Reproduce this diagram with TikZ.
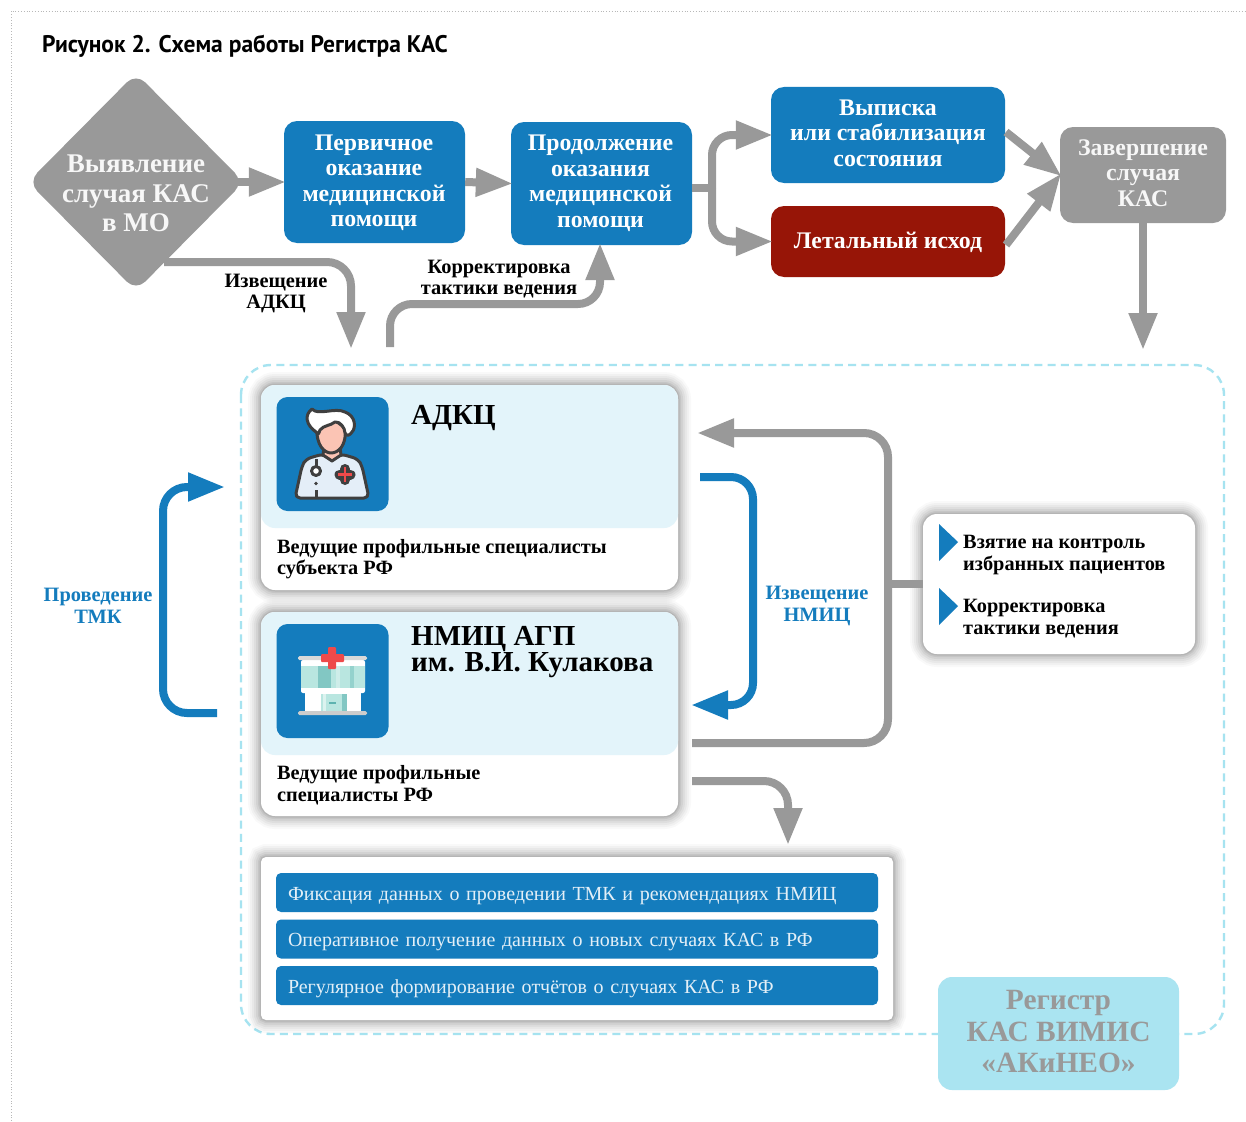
\documentclass[tikz,border=0pt]{standalone}
\usepackage{fontspec}
\setmainfont{Liberation Serif}
\newfontfamily\titlefont[FakeStretch=0.98]{PT Sans}
\usetikzlibrary{arrows.meta,shapes.geometric}
\definecolor{cblue}{HTML}{147CBD}
\definecolor{cgray}{HTML}{999999}
\definecolor{cred}{HTML}{971507}
\definecolor{clight}{HTML}{E3F4FA}
\definecolor{cdash}{HTML}{A6E3F0}
\definecolor{cdark}{HTML}{3F3F3F}
\definecolor{cglass}{HTML}{B9E6E0}
\definecolor{cskin}{HTML}{FBC4B4}
\definecolor{ccoat}{HTML}{E4EEF8}
\definecolor{ccross}{HTML}{EE4A4A}
\tikzset{
  procbox/.style={rounded corners=13pt,inner sep=0pt},
  proctext/.style={inner sep=0pt,align=center,text=white,
    font=\fontsize{23.8}{25.5}\selectfont\bfseries},
  conn/.style={draw=cgray,line width=8pt,shorten >=-2pt,-{Triangle[length=37pt,width=27pt]}},
  bconn/.style={draw=cblue,line width=8pt,shorten >=-2pt,-{Triangle[length=37pt,width=27pt]}},
  stem/.style={draw=cgray,line width=8pt},
  softshadow/.style={
    preaction={draw=black,opacity=.025,line width=26pt},
    preaction={draw=black,opacity=.03,line width=22pt},
    preaction={draw=black,opacity=.035,line width=18pt},
    preaction={draw=black,opacity=.04,line width=14pt},
    preaction={draw=black,opacity=.05,line width=10pt},
    preaction={draw=black,opacity=.06,line width=6pt},
    preaction={draw=black,opacity=.08,line width=3pt}},
  card/.style={fill=white,rounded corners=14pt,inner sep=0pt,softshadow},
  cardtop/.style={fill=clight,rounded corners=14pt,inner sep=0pt},
  iconbox/.style={fill=cblue,rounded corners=11pt,inner sep=0pt,minimum width=112pt,minimum height=114pt},
  bartext/.style={fill=cblue,rounded corners=5pt,minimum width=602pt,minimum height=39pt,inner xsep=12pt,inner ysep=0pt,
    text width=578pt,align=left,text=white!88!cblue,text height=15pt,text depth=0pt,font=\fontsize{20}{23}\selectfont},
  lab/.style={align=center,inner sep=0pt,font=\fontsize{20.4}{21}\selectfont\bfseries},
  bluelab/.style={lab,text=cblue,font=\fontsize{20.4}{22}\selectfont\bfseries},
  caption/.style={anchor=west,align=left,inner sep=0pt,font=\fontsize{20.3}{21.5}\selectfont\bfseries},
  head/.style={anchor=west,inner sep=0pt,text height=19pt,text depth=6pt,font=\fontsize{29}{30}\selectfont\bfseries},
}
\begin{document}
\begin{tikzpicture}[x=1pt,y=-1pt]
\useasboundingbox (0,0) rectangle (1246,1121);
\fill[white] (0,0) rectangle (1246,1121);
\draw[cgray!70,dotted,line width=.8pt] (11,1121) -- (11,11) -- (1246,11);
\node[anchor=west,inner sep=0pt,font=\titlefont\fontsize{24}{26}\selectfont\bfseries] (title) at (42,46) {Рисунок 2. Схема работы Регистра КАС};

% top row
\node[diamond,fill=cgray,rounded corners=13pt,inner sep=0pt,minimum width=216pt,minimum height=218pt] (d) at (136,182) {};
\node[align=center,inner sep=0pt,text=white!92!cgray,font=\fontsize{27}{29.5}\selectfont\bfseries] (dtext) at (136,193.5) {Выявление\\случая КАС\\в МО};
\node[procbox,fill=cblue,minimum width=181pt,minimum height=122pt] (p1) at (374.5,182) {};
\node[proctext] (p1t) at (374,183) {Первичное\\оказание\\медицинской\\помощи};
\node[procbox,fill=cblue,minimum width=181pt,minimum height=123pt] (p2) at (601.5,183.5) {};
\node[proctext] (p2t) at (600.5,183.5) {Продолжение\\оказания\\медицинской\\помощи};
\node[procbox,fill=cblue,minimum width=234pt,minimum height=96pt] (v) at (888,135) {};
\node[proctext] (vt) at (888,133) {Выписка\\или стабилизация\\состояния};
\node[procbox,fill=cred,minimum width=234pt,minimum height=71pt] (l) at (888,241.5) {};
\node[proctext] (lt) at (888,242.5) {Летальный исход};
\node[procbox,fill=cgray,minimum width=166pt,minimum height=96pt] (z) at (1143,175) {};
\node[proctext,text=white!92!cgray] (zt) at (1143,173) {Завершение\\случая\\КАС};

% free ends
\coordinate (dout) at (164,262);
\coordinate (inA) at (351,347);
\coordinate (outA) at (390,347);
\coordinate (p2in) at (600,245);
\coordinate (split) at (712,188);
\coordinate (vout) at (1006,132);
\coordinate (lout) at (1006,245);
\coordinate (zin) at (1060,175);
\coordinate (inZ) at (1143,348);

\draw[conn,shorten <=-8pt] (d.east) -- (p1.west);
\draw[conn] (p1.east) -- (p2.west);
\draw[stem] (p2.east |- split) -- (split);
\draw[conn,rounded corners=20pt] (split) |- (v.west);
\draw[conn,rounded corners=20pt] (split) |- (l.west);
\draw[conn] (vout) -- (zin);
\draw[conn] (lout) -- (zin);
\draw[conn] (z.south) -- (inZ);
\draw[conn,rounded corners=24pt] (dout) -| (inA);
\draw[conn,rounded corners=22pt] (outA) |- (500,304) -| (p2in);

\node[lab] (lab1) at (276,293) {Извещение\\АДКЦ};
\node[lab] (lab2) at (499,279.5) {Корректировка\\тактики ведения};

% region
\draw[cdash,line width=2.4pt,dash pattern=on 8pt off 5.3pt,rounded corners=30pt] (241,365) rectangle (1224,1034);

% cards
\node[card,minimum width=417pt,minimum height=205pt] (c1) at (469.5,487.5) {};
\node[cardtop,minimum width=417pt,minimum height=143pt] (c1t) at (469.5,456.5) {};
\node[iconbox] (i1) at (332.5,454) {};
\node[head] (h1) at (411,417.5) {АДКЦ};
\node[caption] (cap1) at (277,559) {Ведущие профильные специалисты\\субъекта РФ};

\node[card,minimum width=417pt,minimum height=204pt] (c2) at (469.5,714) {};
\node[cardtop,minimum width=417pt,minimum height=143pt] (c2t) at (469.5,683.5) {};
\node[iconbox] (i2) at (332.5,681) {};
\node[head] (h2a) at (411,639) {НМИЦ АГП};
\node[head] (h2b) at (411,665) {им. В.И. Кулакова};
\node[caption] (cap2) at (277,785) {Ведущие профильные\\специалисты РФ};

% doctor icon
\begin{scope}[line width=3pt,draw=cdark,line join=round]
\filldraw[fill=ccoat,rounded corners=5pt] (295,498) -- (302,466) -- (306,459) -- (323,454) -- (332,460) -- (341,454) -- (358,459) -- (362,466) -- (369,498) -- cycle;
\filldraw[fill=cskin] (324,447) -- (323,455) -- (332,461) -- (341,455) -- (340,447) -- cycle;
\filldraw[fill=cskin] (317,428) .. controls (316,446) and (325,453) .. (331,453) .. controls (338,453) and (347,446) .. (345,428) -- (332,418) -- cycle;
\filldraw[fill=white] (312,409) .. controls (318,416) and (335,407) .. (345,412) .. controls (356,416) and (356,428) .. (352,432) .. controls (350,435) and (347,437) .. (345,433) .. controls (345,428) and (340,421) .. (335,422) .. controls (330,426) and (324,425) .. (320,430) .. controls (318,436) and (318,434) .. (316,432) .. controls (306,425) and (304,415) .. (312,409) -- cycle;
\draw (316,459) -- (316,467);
\filldraw[fill=white] (316,471) circle (4.5pt);
\draw (316,490) -- (316,498);
\fill[cdark] (316,483.5) circle (1.8pt);
\draw[cdark,line width=10pt,line cap=round] (345,469) -- (345,480) (339.5,474.5) -- (350.5,474.5);
\draw[ccross,line width=2.6pt] (345,467) -- (345,482) (338,474.5) -- (352,474.5);
\end{scope}

% building icon
\fill[white] (305,693) rectangle (361,712);
\fill[white,rounded corners=2pt] (301,660) rectangle (365,693);
\fill[cglass] (301,666) rectangle (365,688);
\fill[cglass!70!teal] (318,666) rectangle (331,688);
\fill[cglass!70!white] (336,666) rectangle (340,688);
\fill[cglass!80!teal] (350,666) rectangle (354,688);
\fill[cglass] (321,694) rectangle (347,712);
\fill[cglass!70!teal] (342,694) rectangle (347,712);
\fill[white!50!cglass] (323,694) rectangle (326,712);
\fill[cglass!50!teal] (329,702) rectangle (336,704);
\fill[white!85!black,rounded corners=1.5pt] (298,656) rectangle (367,660);
\fill[white!80!black,rounded corners=1.5pt] (298,711) rectangle (367,715);
\fill[ccross,rounded corners=1pt] (328,647) rectangle (336,669);
\fill[ccross,rounded corners=1pt] (321,654) rectangle (344,662);

% right box
\node[card,minimum width=272pt,minimum height=140pt] (rb) at (1059,584) {};
\node[caption,font=\fontsize{20.3}{22}\selectfont\bfseries] (rb1) at (963,555) {Взятие на контроль\\избранных пациентов};
\node[caption,font=\fontsize{20.3}{22}\selectfont\bfseries] (rb2) at (963,619) {Корректировка\\тактики ведения};
\fill[cblue] (939,524) -- (958,542) -- (939,561) -- cycle;
\fill[cblue] (939,588) -- (958,606) -- (939,625) -- cycle;

% inner connectors
\coordinate (c2out) at (692,743);
\coordinate (backbend) at (888,600);
\coordinate (c1in) at (699,433);
\coordinate (c1out) at (700,477);
\coordinate (c2in) at (693,705);
\coordinate (leftA) at (217,713);
\coordinate (leftB) at (223,487);
\coordinate (c3out) at (692,781);
\coordinate (downin) at (788,843);
\draw[conn,rounded corners=24pt] (c2out) -| (backbend) |- (c1in);
\draw[stem] (backbend |- rb.west) -- (rb.west);
\draw[bconn,rounded corners=22pt] (c1out) -| (753,600) |- (c2in);
\draw[bconn,rounded corners=24pt] (leftA) -| (163,600) |- (leftB);
\draw[conn,rounded corners=24pt] (c3out) -| (downin);
\node[bluelab] (lab3) at (98,606) {Проведение\\ТМК};
\node[bluelab] (lab4) at (817,606) {Извещение\\НМИЦ};

% bottom panel
\node[card,rounded corners=5pt,minimum width=632pt,minimum height=163pt] (bp) at (577,938.5) {};
\node[bartext] (b1) at (577,892.5) {Фиксация данных о проведении ТМК и рекомендациях НМИЦ};
\node[bartext] (b2) at (577,939) {Оперативное получение данных о новых случаях КАС в РФ};
\node[bartext] (b3) at (577,985.5) {Регулярное формирование отчётов о случаях КАС в РФ};

% registry
\node[fill=cdash!95!white,rounded corners=14pt,inner sep=0pt,minimum width=241pt,minimum height=113pt] (reg) at (1058.5,1033.5) {};
\node[align=center,inner sep=0pt,text=cgray,font=\fontsize{29.4}{31.5}\selectfont\bfseries] (regt) at (1058.5,1032) {Регистр\\КАС ВИМИС\\«АКиНЕО»};
\end{tikzpicture}
\end{document}
